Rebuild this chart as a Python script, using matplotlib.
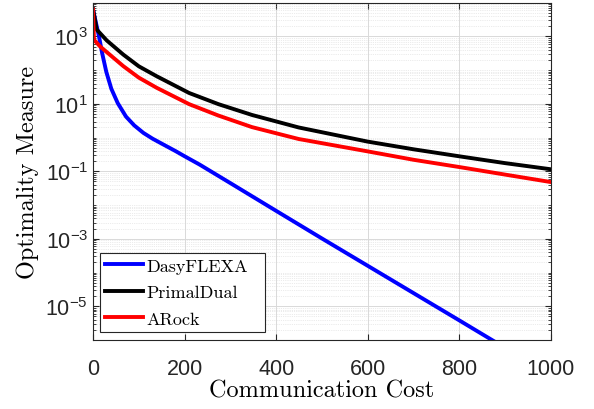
import numpy as np
import matplotlib
matplotlib.use("Agg")
import matplotlib.pyplot as plt
from matplotlib.ticker import LogLocator, NullFormatter, FixedLocator
from matplotlib.legend_handler import HandlerLine2D

plt.rcParams["font.family"] = ["Liberation Sans", "DejaVu Sans"]
plt.rcParams["mathtext.fontset"] = "custom"
plt.rcParams["mathtext.rm"] = "Liberation Sans"

# values (x = communication cost, y = optimality measure)
dasy_x = [0, 6.5, 13, 20, 29, 40, 54, 72, 90, 110, 130, 153, 180, 200, 233, 300, 401, 500, 600, 700,
          800, 875]
dasy_y = [6300, 2500, 1000, 316, 89, 28, 10.5, 4.2, 2.3, 1.38, 0.93, 0.63, 0.40, 0.28, 0.158, 0.0447,
          6.6e-3, 1.02e-3, 1.58e-4, 2.45e-5, 3.8e-6, 9.3e-7]

pd_x = [0, 8, 30, 66, 100, 139, 210, 274, 347, 449, 600, 700, 803, 900, 1000]
pd_y = [6300, 1600, 760, 290, 130, 66, 21, 9.8, 4.7, 2.0, 0.76, 0.45, 0.275, 0.175, 0.115]

ar_x = [0, 2, 15, 66, 100, 139, 210, 274, 347, 449, 600, 700, 803, 900, 1000]
ar_y = [6300, 800, 510, 132, 60, 30, 9.8, 4.5, 2.05, 0.91, 0.39, 0.22, 0.132, 0.08, 0.048]

labels = ["DasyFLEXA", "PrimalDual", "ARock"]
colors = [(0, 0, 1), (0, 0, 0), (1, 0, 0)]


class ShortLine(HandlerLine2D):
    # legend sample drawn only over the right part of the handle box
    def create_artists(self, legend, orig_handle, xdescent, ydescent, width, height, fontsize, trans):
        arts = super().create_artists(legend, orig_handle, xdescent, ydescent, width, height, fontsize, trans)
        for a in arts:
            xd = a.get_xdata()
            if len(xd) == 2:
                a.set_xdata([xd[0] + 0.31 * (xd[1] - xd[0]), xd[1]])
        return arts


fig = plt.figure(figsize=(5.94, 4.1), dpi=100)
ax = fig.add_axes([0.1566, 0.1683, 0.7710, 0.8227])

for xs, ys, lab, col in zip([dasy_x, pd_x, ar_x], [dasy_y, pd_y, ar_y], labels, colors):
    ax.plot(xs, ys, color=col, lw=2.8, label=lab, solid_joinstyle="round")

ax.set_yscale("log")
ax.set_xlim(0, 1000)
ax.set_ylim(1e-6, 1e4)

ax.set_xticks([0, 200, 400, 600, 800, 1000])
ax.set_xticklabels(["0", "200", "400", "600", "800", "1000"])
ax.yaxis.set_major_locator(FixedLocator([1e-5, 1e-3, 1e-1, 1e1, 1e3]))
ax.yaxis.set_minor_locator(LogLocator(base=10, subs=np.arange(1, 10), numticks=30))
ax.yaxis.set_minor_formatter(NullFormatter())

gray = (0.15, 0.15, 0.15)
ax.tick_params(axis="both", which="both", direction="in", top=True, right=True,
               colors=gray, labelsize=15.5)
ax.tick_params(which="major", length=4)
ax.tick_params(which="minor", length=2)
ax.tick_params(axis="x", which="major", pad=13)
ax.tick_params(axis="y", which="major", pad=3.5)
for sp in ax.spines.values():
    sp.set_color(gray)
    sp.set_linewidth(0.8)

ax.grid(True, which="major", color=(0.85, 0.85, 0.85), lw=0.7)
ax.grid(True, which="minor", axis="y", color=(0.85, 0.85, 0.85), lw=0.5, ls=":")

ax.set_xlabel("Communication Cost", family="cmr10", fontsize=17.5, color="black", labelpad=0)
ax.set_ylabel("Optimality Measure", family="cmr10", fontsize=17.5, color="black", labelpad=5)

leg = ax.legend(loc="lower left", bbox_to_anchor=(0.0153, 0.0237, 0.360, 0.24), mode="expand",
                borderaxespad=0, prop={"family": "cmr10", "size": 13}, fancybox=False,
                framealpha=1, edgecolor=gray, handlelength=2.08, handletextpad=0.17,
                borderpad=0.3, labelspacing=0.6, handler_map={plt.Line2D: ShortLine()})
leg.get_frame().set_linewidth(0.8)

fig.savefig("out.png", dpi=100)
